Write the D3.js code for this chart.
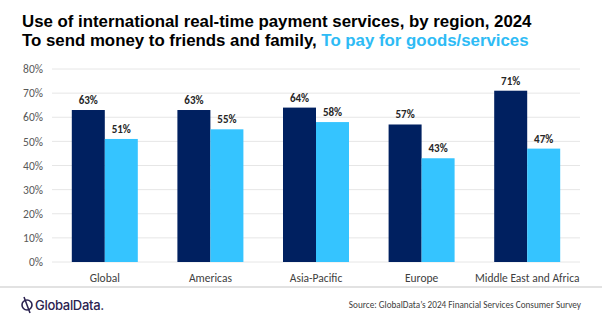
<!DOCTYPE html>
<html>
<head>
<meta charset="utf-8">
<script src="https://cdn.jsdelivr.net/npm/d3@7"></script>
<style>
  html, body { margin: 0; padding: 0; background: #ffffff; }
  svg { display: block; }
</style>
</head>
<body>
<svg id="chart" width="602" height="322"></svg>
<script>
// Regions and survey shares (%)
const regions = ["Global", "Americas", "Asia-Pacific", "Europe", "Middle East and Africa"];
const sendMoney = [63, 63, 64, 57, 71];
const payGoods = [51, 55, 58, 43, 47];
const yTicks = [0, 10, 20, 30, 40, 50, 60, 70, 80];
const seriesNames = ["To send money to friends and family", "To pay for goods/services"];
const titleText = "Use of international real-time payment services, by region, 2024";

const colors = ["#002060", "#35C4FF"];
const font = "Calibri, Carlito, Lato, 'Open Sans', sans-serif";
const titleFont = "'Liberation Sans', Arial, sans-serif";

const svg = d3.select("#chart");
const W = 602, H = 322;
const margin = { left: 52, right: 22, top: 69, bottom: 60 };
const plotW = W - margin.left - margin.right;
const plotH = H - margin.top - margin.bottom;

// Two-line heading, condensed horizontally so the first line spans the header width
const head = svg.append("g").attr("transform", "translate(22,0)");
const title = head.append("text")
  .attr("x", 0).attr("y", 27.5)
  .attr("font-family", titleFont).attr("font-weight", "bold")
  .attr("font-size", 16).attr("fill", "#000")
  .text(titleText);
const sx = 510 / title.node().getComputedTextLength();
head.attr("transform", `translate(22,0) scale(${sx},1)`);

const sub = head.append("text")
  .attr("x", 0).attr("y", 46)
  .attr("font-family", titleFont).attr("font-weight", "bold")
  .attr("font-size", 16);
sub.append("tspan").attr("fill", "#000").text(seriesNames[0] + ", ");
sub.append("tspan").attr("fill", "#2EBBF5").text(seriesNames[1]);

const g = svg.append("g").attr("transform", `translate(${margin.left},${margin.top})`);

const x0 = d3.scaleBand().domain(regions).range([0, plotW]).paddingInner(0.375).paddingOuter(0.1875);
const x1 = d3.scaleBand().domain([0, 1]).range([0, x0.bandwidth()]);
const y = d3.scaleLinear().domain([0, 80]).range([plotH, 0]);

// Gridlines
g.append("g").selectAll("line").data(yTicks).join("line")
  .attr("x1", 0).attr("x2", plotW)
  .attr("y1", d => y(d)).attr("y2", d => y(d))
  .attr("stroke", "#E6E6E6").attr("stroke-width", 1);

// Y axis labels
const yAxis = d3.axisLeft(y).tickValues(yTicks).tickFormat(d => d + "%").tickSize(0).tickPadding(9);
g.append("g").call(yAxis)
  .call(a => a.select(".domain").remove())
  .call(a => a.selectAll("text").attr("font-family", font).attr("font-size", 11.5).attr("fill", "#595959"));

// X axis labels
const xAxis = d3.axisBottom(x0).tickSize(0).tickPadding(12);
g.append("g").attr("transform", `translate(0,${plotH})`).call(xAxis)
  .call(a => a.select(".domain").remove())
  .call(a => a.selectAll("text").attr("font-family", font).attr("font-size", 11.5).attr("fill", "#404040"));

// Bars
const series = [sendMoney, payGoods];
const rows = regions.map((r, i) => ({ region: r, values: series.map(s => s[i]) }));

const groups = g.append("g").selectAll("g").data(rows).join("g")
  .attr("transform", d => `translate(${x0(d.region)},0)`);

groups.selectAll("rect").data(d => d.values.map((v, k) => ({ v, k }))).join("rect")
  .attr("x", d => x1(d.k)).attr("width", x1.bandwidth())
  .attr("y", d => y(d.v)).attr("height", d => plotH - y(d.v))
  .attr("fill", d => colors[d.k]);

groups.selectAll("text.val").data(d => d.values.map((v, k) => ({ v, k }))).join("text")
  .attr("class", "val")
  .attr("x", d => x1(d.k) + x1.bandwidth() / 2)
  .attr("y", d => y(d.v) - 6)
  .attr("text-anchor", "middle")
  .attr("font-family", font).attr("font-weight", "bold").attr("font-size", 11)
  .attr("fill", "#262626")
  .text(d => d.v + "%");

// Footer separator
svg.append("line").attr("x1", 0).attr("x2", W).attr("y1", 287).attr("y2", 287)
  .attr("stroke", "#D9D9D9").attr("stroke-width", 1.5);

// Logo
const logo = svg.append("g").attr("transform", "translate(27,305)");
logo.append("circle").attr("r", 5).attr("fill", "none").attr("stroke", "#2B2350").attr("stroke-width", 1.6);
logo.append("line").attr("x1", -3).attr("y1", -8).attr("x2", 3).attr("y2", 8)
  .attr("stroke", "#2B2350").attr("stroke-width", 1.6);
svg.append("text").attr("x", 35).attr("y", 309.5)
  .attr("font-family", "Inter, 'Open Sans', sans-serif").attr("font-size", 13).attr("font-weight", 500)
  .attr("fill", "#2B2350").attr("letter-spacing", -0.3)
  .text("GlobalData.");

// Source
svg.append("text").attr("x", 581).attr("y", 308).attr("text-anchor", "end")
  .attr("font-family", font).attr("font-size", 9.2).attr("fill", "#404040")
  .text("Source: GlobalData’s 2024 Financial Services Consumer Survey");
</script>
</body>
</html>
